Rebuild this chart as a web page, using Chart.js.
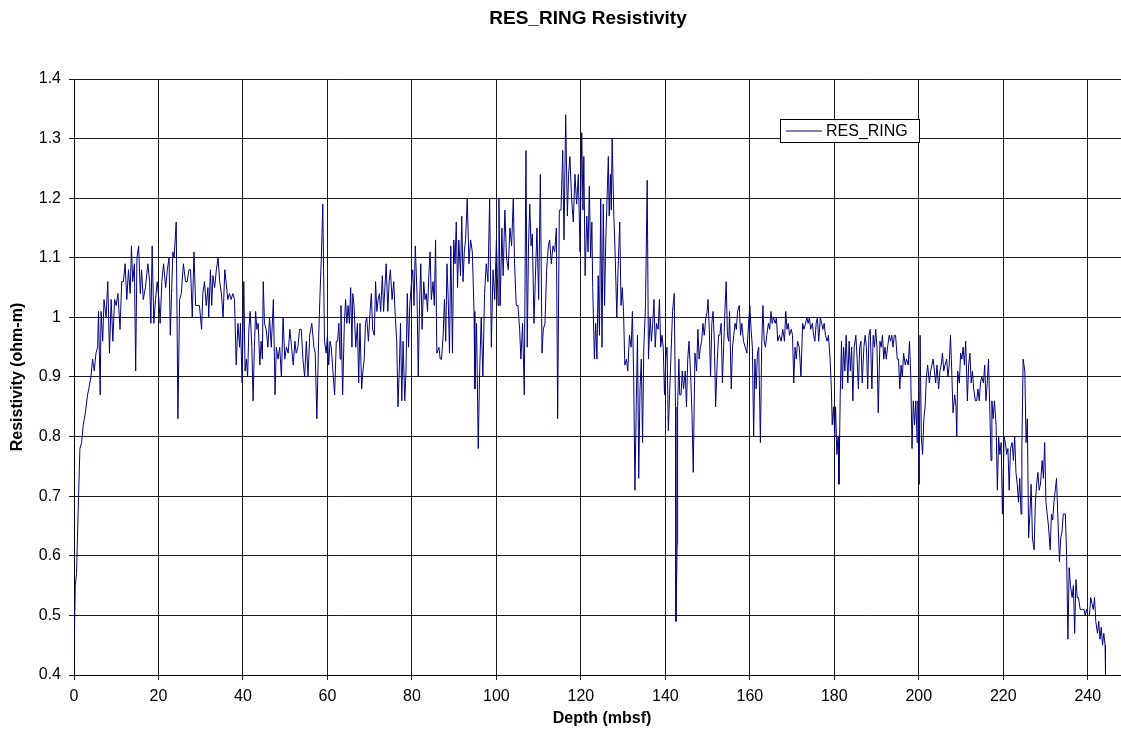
<!DOCTYPE html>
<html>
<head>
<meta charset="utf-8">
<title>RES_RING Resistivity</title>
<script src="https://cdn.jsdelivr.net/npm/chart.js@4.4.1/dist/chart.umd.min.js"></script>
<style>
    html, body { margin: 0; padding: 0; background: #fff; overflow: hidden; }
    #grafico { display: block; }
</style>
</head>
<body>
<canvas id="grafico" width="1140" height="738"></canvas>
<script>
const depth = [
    // 0 - 29 m
    0.0, 0.3, 0.6, 1.0, 1.4, 1.8, 2.2, 2.7, 3.2, 3.5,
    4.0, 4.4, 4.8, 5.2, 5.6, 5.8, 6.2, 6.4, 6.8, 7.1,
    7.6, 8.0, 8.4, 8.8, 9.2, 9.6, 10.0, 10.4, 10.9, 11.3,
    11.7, 12.1, 12.5, 12.9, 13.3, 13.6, 13.9, 14.3, 14.6, 14.9,
    15.3, 15.7, 16.0, 16.4, 16.9, 17.5, 17.9, 18.2, 18.5, 18.9,
    19.3, 19.7, 20.1, 20.4, 20.8, 21.2, 21.7, 22.1, 22.5, 22.8,
    23.1, 23.4, 23.7, 24.2, 24.6, 25.0, 25.4, 25.9, 26.4, 26.8,
    27.2, 27.6, 28.0, 28.4, 28.8, 29.3,
    // 29 - 59 m
    29.7, 30.2, 30.5, 30.9, 31.3, 31.7, 31.9, 32.3, 32.6, 32.9,
    33.3, 33.7, 34.1, 34.5, 34.9, 35.3, 35.7, 36.0, 36.4, 36.8,
    37.2, 37.6, 38.0, 38.4, 38.8, 39.2, 39.4, 39.8, 40.2, 40.5,
    40.8, 41.1, 41.4, 41.7, 42.1, 42.4, 42.7, 43.0, 43.3, 43.6,
    44.0, 44.3, 44.6, 44.8, 45.1, 45.5, 45.9, 46.3, 46.7, 47.2,
    47.6, 47.9, 48.3, 48.7, 49.1, 49.5, 49.9, 50.3, 50.7, 51.1,
    51.5, 51.9, 52.3, 52.6, 53.0, 53.4, 53.8, 54.2, 54.6, 55.0,
    55.4, 55.8, 56.3, 56.8, 57.1, 57.5, 57.9, 58.2, 58.6, 58.9,
    59.3,
    // 59 - 91 m
    59.7, 60.0, 60.3, 60.6, 60.9, 61.3, 61.7, 62.1, 62.4, 62.7,
    63.0, 63.2, 63.6, 64.0, 64.3, 64.6, 64.9, 65.2, 65.5, 65.8,
    66.0, 66.3, 66.7, 67.1, 67.4, 67.7, 68.1, 68.4, 68.7, 69.0,
    69.3, 69.7, 70.1, 70.4, 70.7, 71.1, 71.4, 71.7, 72.0, 72.3,
    72.6, 73.0, 73.3, 73.6, 73.9, 74.3, 74.6, 74.9, 75.3, 75.7,
    76.0, 76.4, 76.7, 77.0, 77.3, 77.6, 77.9, 78.3, 78.6, 78.9,
    79.2, 79.5, 79.8, 80.2, 80.5, 80.8, 81.2, 81.5, 81.8, 82.1,
    82.4, 82.8, 83.1, 83.4, 83.7, 84.0, 84.3, 84.6, 85.0, 85.3,
    85.6, 85.9, 86.4, 86.7, 87.0, 87.4, 87.7, 88.0, 88.3, 88.6,
    88.9, 89.2, 89.6, 89.9, 90.2, 90.5, 90.8, 91.1,
    // 91 - 120 m
    91.5, 91.8, 92.1, 92.4, 92.7, 93.1, 93.5, 93.9, 94.3, 94.7,
    94.9, 95.3, 95.7, 96.0, 96.4, 96.8, 97.2, 97.6, 98.0, 98.4,
    98.8, 99.2, 99.6, 100.0, 100.4, 100.6, 100.9, 101.3, 101.6, 102.0,
    102.4, 102.8, 103.2, 103.6, 104.0, 104.3, 104.7, 105.1, 105.5, 105.8,
    106.2, 106.6, 107.0, 107.3, 107.6, 107.9, 108.2, 108.5, 108.9, 109.2,
    109.6, 110.0, 110.4, 110.8, 111.1, 111.5, 111.9, 112.3, 112.6, 113.0,
    113.4, 113.8, 114.2, 114.5, 114.9, 115.3, 115.7, 116.0, 116.4, 116.8,
    117.1, 117.4, 117.8, 118.2, 118.6, 119.0, 119.4, 119.8, 120.2,
    // 120 - 153 m
    120.5, 120.7, 121.0, 121.4, 121.7, 122.0, 122.3, 122.6, 122.8, 123.2,
    123.5, 123.8, 124.1, 124.4, 124.7, 125.0, 125.3, 125.6, 125.9, 126.2,
    126.5, 126.7, 127.0, 127.2, 127.4, 127.8, 128.1, 128.5, 128.8, 129.2,
    129.5, 129.8, 130.1, 130.4, 130.8, 131.1, 131.5, 131.9, 132.2, 132.5,
    132.8, 133.1, 133.4, 133.7, 134.0, 134.3, 134.6, 134.9, 135.3, 135.7,
    136.0, 136.4, 136.7, 137.0, 137.3, 137.6, 137.9, 138.3, 138.6, 138.9,
    139.2, 139.5, 139.8, 140.1, 140.4, 140.7, 141.0, 141.3, 141.7, 142.1,
    142.4, 142.5, 142.8, 142.9, 143.2, 143.4, 143.7, 144.0, 144.3, 144.7,
    145.0, 145.3, 145.6, 146.0, 146.3, 146.6, 147.0, 147.4, 147.7, 148.0,
    148.3, 148.6, 148.9, 149.2, 149.6, 149.9, 150.1, 150.4, 150.7, 151.0,
    151.3, 151.6, 151.9, 152.3, 152.6,
    // 153 - 182 m
    152.9, 153.2, 153.5, 153.8, 154.1, 154.4, 154.7, 155.0, 155.2, 155.6,
    155.9, 156.2, 156.5, 156.8, 157.1, 157.5, 157.8, 158.1, 158.5, 158.9,
    159.3, 159.7, 160.0, 160.3, 160.6, 160.9, 161.2, 161.5, 161.8, 162.1,
    162.5, 162.8, 163.1, 163.4, 163.7, 164.0, 164.4, 164.7, 165.0, 165.3,
    165.6, 166.0, 166.3, 166.6, 167.0, 167.4, 167.8, 168.2, 168.5, 168.8,
    169.1, 169.4, 169.8, 170.1, 170.4, 170.7, 171.0, 171.3, 171.7, 172.1,
    172.5, 172.8, 173.2, 173.5, 173.8, 174.1, 174.4, 174.8, 175.1, 175.4,
    175.7, 176.0, 176.3, 176.7, 177.0, 177.3, 177.6, 177.9, 178.3, 178.6,
    179.0, 179.3, 179.5, 179.8, 180.1, 180.3, 180.6, 180.9, 181.1, 181.4,
    181.7,
    // 182 - 213 m
    181.9, 182.2, 182.5, 182.8, 183.2, 183.5, 183.8, 184.1, 184.4, 184.7,
    185.1, 185.4, 185.7, 186.0, 186.3, 186.6, 187.0, 187.3, 187.6, 187.9,
    188.2, 188.5, 188.9, 189.2, 189.5, 189.8, 190.1, 190.4, 190.8, 191.1,
    191.4, 191.7, 192.0, 192.3, 192.6, 193.0, 193.3, 193.6, 193.9, 194.2,
    194.5, 194.9, 195.2, 195.5, 195.8, 196.1, 196.4, 196.8, 197.1, 197.5,
    197.8, 198.1, 198.4, 198.7, 199.0, 199.3, 199.6, 199.8, 200.1, 200.3,
    200.6, 200.9, 201.2, 201.5, 201.8, 202.1, 202.5, 202.8, 203.1, 203.4,
    203.7, 204.0, 204.3, 204.7, 205.0, 205.3, 205.6, 205.9, 206.2, 206.6,
    206.9, 207.2, 207.5, 207.8, 208.1, 208.5, 208.8, 209.0, 209.2, 209.6,
    209.9, 210.2, 210.5, 210.8, 211.1, 211.5, 211.8, 212.1, 212.4, 212.7,
    213.0, 213.4,
    // 213 - 244 m
    213.7, 214.0, 214.3, 214.6, 214.9, 215.3, 215.6, 215.9, 216.2, 216.5,
    216.8, 217.1, 217.3, 217.6, 217.9, 218.3, 218.6, 218.9, 219.2, 219.5,
    219.8, 220.2, 220.5, 220.8, 221.1, 221.4, 221.7, 222.1, 222.4, 222.7,
    223.0, 223.3, 223.6, 223.9, 224.2, 224.4, 224.7, 225.1, 225.4, 225.7,
    226.0, 226.3, 226.6, 226.9, 227.3, 227.6, 227.9, 228.2, 228.5, 228.8,
    229.2, 229.5, 229.8, 230.1, 230.4, 230.7, 231.1, 231.4, 231.7, 232.0,
    232.3, 232.6, 232.9, 233.3, 233.6, 233.9, 234.2, 234.7, 235.0, 235.3,
    235.6, 235.9, 236.3, 236.6, 236.9, 237.2, 237.5, 237.8, 238.2, 238.5,
    238.8, 239.1, 239.4, 239.7, 240.0, 240.4, 240.7, 241.0, 241.3, 241.6,
    241.9, 242.3, 242.6, 242.9, 243.2, 243.5, 243.8, 244.1, 244.2
];

const resRing = [
    // 0 - 29 m
    0.43, 0.55, 0.57, 0.68, 0.78, 0.79, 0.82, 0.84, 0.87, 0.88,
    0.90, 0.93, 0.91, 0.94, 0.95, 1.01, 0.87, 1.01, 0.96, 1.03,
    1.00, 1.06, 0.94, 1.03, 0.96, 1.03, 1.02, 1.04, 0.98, 1.06,
    1.06, 1.09, 1.03, 1.08, 1.04, 1.12, 1.06, 1.09, 0.91, 1.10,
    1.12, 1.04, 1.08, 1.03, 1.05, 1.09, 1.06, 0.99, 1.12, 0.99,
    1.03, 1.06, 1.03, 0.99, 1.06, 1.09, 1.05, 1.08, 1.10, 0.97,
    1.04, 1.11, 1.10, 1.16, 0.83, 1.03, 1.04, 1.09, 1.06, 1.06,
    1.08, 1.08, 1.00, 1.11, 1.02, 1.02,
    // 29 - 59 m
    1.02, 0.98, 1.04, 1.06, 1.02, 1.05, 1.00, 1.08, 1.02, 1.07,
    1.05, 1.08, 1.10, 1.06, 1.04, 1.00, 1.08, 1.06, 1.03, 1.04,
    1.03, 1.04, 1.03, 0.92, 0.99, 0.95, 0.99, 0.89, 1.06, 0.91,
    0.93, 0.90, 0.98, 1.01, 0.95, 0.86, 0.95, 1.01, 0.98, 0.99,
    0.92, 0.96, 0.93, 1.06, 0.99, 0.98, 0.95, 1.00, 0.95, 1.03,
    0.87, 0.95, 0.93, 0.95, 0.90, 1.00, 0.93, 0.95, 0.94, 0.98,
    0.95, 0.92, 0.96, 0.94, 0.95, 0.98, 0.98, 0.93, 0.90, 0.96,
    0.90, 0.97, 0.99, 0.95, 0.94, 0.83, 0.96, 1.03, 1.11, 1.19,
    0.96,
    // 59 - 91 m
    0.94, 0.97, 0.92, 0.96, 0.95, 0.91, 0.87, 0.96, 0.96, 0.99,
    0.93, 1.02, 0.87, 0.99, 1.03, 0.99, 1.02, 0.99, 1.05, 0.95,
    1.04, 1.02, 0.95, 0.99, 0.89, 0.99, 0.88, 0.91, 0.93, 0.99,
    1.00, 0.96, 1.01, 1.04, 0.98, 0.97, 1.06, 1.01, 1.03, 1.04,
    1.01, 1.07, 1.01, 1.05, 1.09, 1.01, 1.06, 1.08, 1.03, 1.06,
    1.01, 0.96, 0.85, 0.91, 0.99, 0.86, 0.96, 0.86, 0.91, 1.04,
    0.95, 1.02, 1.05, 1.08, 1.02, 1.12, 1.04, 0.90, 1.02, 1.09,
    0.98, 1.06, 1.03, 1.04, 1.01, 1.07, 1.11, 1.03, 1.06, 1.02,
    1.13, 0.94, 0.95, 0.93, 0.93, 0.97, 1.03, 0.96, 1.09, 1.03,
    0.94, 1.12, 0.94, 1.13, 1.09, 1.16, 1.05, 1.13,
    // 91 - 120 m
    1.07, 1.17, 1.06, 1.11, 1.13, 1.20, 1.09, 1.13, 1.11, 1.01,
    0.88, 0.99, 0.78, 0.90, 1.00, 0.90, 1.04, 1.09, 1.06, 1.20,
    0.95, 1.08, 1.03, 1.13, 1.02, 1.20, 1.02, 1.15, 1.07, 1.18,
    1.10, 1.08, 1.15, 1.12, 1.20, 1.09, 1.02, 1.02, 0.98, 0.93,
    0.99, 0.87, 1.28, 0.95, 1.12, 1.19, 1.12, 1.14, 0.99, 1.06,
    1.15, 1.03, 1.24, 0.94, 0.98, 0.99, 1.08, 1.12, 1.13, 1.09,
    1.12, 1.11, 1.15, 0.83, 1.18, 1.18, 1.28, 1.13, 1.34, 1.17,
    1.24, 1.27, 1.20, 1.16, 1.24, 1.19, 1.24, 1.11, 1.31,
    // 120 - 153 m
    1.18, 1.27, 1.07, 1.17, 1.11, 1.22, 1.10, 1.16, 1.05, 0.93,
    0.99, 0.93, 1.07, 0.97, 1.20, 0.95, 1.19, 1.02, 1.13, 1.20,
    1.27, 1.17, 1.24, 1.18, 1.30, 1.17, 1.11, 1.00, 1.08, 1.16,
    1.02, 1.05, 1.01, 0.92, 0.93, 0.91, 0.97, 0.95, 1.01, 0.90,
    0.71, 0.85, 0.97, 0.73, 0.88, 0.93, 0.79, 0.95, 1.02, 1.23,
    0.93, 1.00, 0.96, 0.99, 1.03, 0.95, 0.99, 0.98, 1.03, 0.95,
    0.97, 0.95, 0.87, 0.93, 0.95, 0.81, 0.87, 0.93, 1.01, 1.04,
    0.85, 0.49, 0.62, 0.85, 0.93, 0.87, 0.87, 0.91, 0.88, 0.91,
    0.85, 0.93, 0.96, 0.90, 0.84, 0.74, 0.94, 0.91, 0.98, 0.93,
    0.95, 0.96, 0.99, 0.97, 1.00, 1.01, 1.03, 0.98, 0.90, 0.99,
    1.01, 0.96, 0.85, 0.93, 0.97,
    // 153 - 182 m
    0.97, 0.99, 0.89, 0.95, 1.01, 1.06, 0.97, 0.96, 1.01, 0.88,
    0.95, 0.97, 0.99, 0.98, 1.01, 1.02, 0.97, 0.99, 0.96, 0.95,
    0.94, 0.99, 1.02, 0.98, 0.95, 0.80, 0.93, 0.88, 0.94, 0.95,
    0.79, 0.95, 1.02, 0.96, 0.95, 0.97, 0.99, 0.98, 1.01, 0.99,
    1.00, 0.99, 1.00, 0.96, 0.97, 0.96, 0.98, 0.96, 1.01, 0.98,
    0.99, 0.97, 0.98, 0.97, 0.89, 0.95, 0.93, 0.96, 0.95, 0.90,
    0.99, 0.98, 0.99, 1.00, 0.99, 1.00, 0.98, 0.99, 0.97, 0.96,
    0.99, 1.00, 0.96, 1.00, 0.99, 0.98, 0.99, 0.97, 0.96, 0.97,
    0.93, 0.88, 0.82, 0.85, 0.80, 0.85, 0.77, 0.80, 0.72, 0.87,
    0.96,
    // 182 - 213 m
    0.88, 0.95, 0.91, 0.97, 0.89, 0.96, 0.91, 0.95, 0.86, 0.95,
    0.97, 0.93, 0.88, 0.95, 0.96, 0.89, 0.95, 0.97, 0.95, 0.88,
    0.97, 0.98, 0.88, 0.97, 0.95, 0.98, 0.95, 0.84, 0.96, 0.95,
    0.97, 0.93, 0.95, 0.93, 0.95, 0.97, 0.96, 0.97, 0.95, 0.97,
    0.97, 0.93, 0.93, 0.88, 0.92, 0.90, 0.94, 0.92, 0.93, 0.92,
    0.96, 0.90, 0.78, 0.86, 0.82, 0.86, 0.79, 0.86, 0.72, 0.97,
    0.80, 0.77, 0.83, 0.85, 0.90, 0.92, 0.89, 0.91, 0.92, 0.93,
    0.91, 0.89, 0.92, 0.88, 0.91, 0.92, 0.94, 0.91, 0.92, 0.93,
    0.90, 0.92, 0.97, 0.91, 0.84, 0.87, 0.85, 0.80, 0.91, 0.89,
    0.94, 0.93, 0.95, 0.92, 0.96, 0.86, 0.92, 0.94, 0.89, 0.91,
    0.88, 0.86,
    // 213 - 244 m
    0.86, 0.88, 0.86, 0.89, 0.90, 0.89, 0.92, 0.86, 0.89, 0.93,
    0.85, 0.76, 0.86, 0.83, 0.86, 0.82, 0.71, 0.80, 0.77, 0.79,
    0.67, 0.80, 0.79, 0.77, 0.78, 0.71, 0.78, 0.79, 0.76, 0.80,
    0.74, 0.72, 0.69, 0.73, 0.67, 0.78, 0.93, 0.91, 0.79, 0.83,
    0.63, 0.67, 0.72, 0.63, 0.61, 0.69, 0.72, 0.74, 0.71, 0.72,
    0.76, 0.73, 0.79, 0.69, 0.67, 0.65, 0.61, 0.67, 0.66, 0.69,
    0.71, 0.73, 0.67, 0.59, 0.63, 0.64, 0.67, 0.67, 0.60, 0.46,
    0.58, 0.55, 0.53, 0.55, 0.47, 0.56, 0.53, 0.53, 0.51, 0.51,
    0.51, 0.51, 0.50, 0.51, 0.50, 0.50, 0.53, 0.52, 0.51, 0.53,
    0.49, 0.47, 0.49, 0.46, 0.48, 0.45, 0.47, 0.45, 0.40
];

const xTicks = [0, 20, 40, 60, 80, 100, 120, 140, 160, 180, 200, 220, 240];
const yTicks = [0.4, 0.5, 0.6, 0.7, 0.8, 0.9, 1.0, 1.1, 1.2, 1.3, 1.4];

const tituloGrafico = 'RES_RING Resistivity';
const nomeSerie = 'RES_RING';
const corSerie = '#000080';

document.addEventListener('DOMContentLoaded', function () {
    const graficoCanvas = document.getElementById('grafico');
    const fonte = "'Liberation Sans', Arial, sans-serif";

    const pontos = depth.map((d, i) => ({ x: d, y: resRing[i] }));

    // Título e caixa de legenda no estilo do Excel
    const extras = {
        id: 'extras',
        afterDraw(chart) {
            const ctx = chart.ctx;
            ctx.save();
            ctx.fillStyle = '#000';
            ctx.font = 'bold 19px ' + fonte;
            ctx.textAlign = 'center';
            ctx.textBaseline = 'middle';
            ctx.fillText(tituloGrafico, 588, 19);

            const bx = 780.5, by = 119.5, bw = 139, bh = 23;
            ctx.fillStyle = '#fff';
            ctx.fillRect(bx, by, bw, bh);
            ctx.strokeStyle = '#000';
            ctx.lineWidth = 1;
            ctx.strokeRect(bx, by, bw, bh);

            ctx.strokeStyle = corSerie;
            ctx.beginPath();
            ctx.moveTo(786, by + bh / 2);
            ctx.lineTo(822, by + bh / 2);
            ctx.stroke();

            ctx.fillStyle = '#000';
            ctx.font = '16px ' + fonte;
            ctx.textAlign = 'left';
            ctx.fillText(nomeSerie, 826, by + bh / 2 + 1);
            ctx.restore();
        }
    };

    new Chart(graficoCanvas, {
        type: 'line',
        data: {
            datasets: [{
                label: nomeSerie,
                data: pontos,
                borderColor: corSerie,
                borderWidth: 1,
                pointRadius: 0,
                tension: 0,
                fill: false
            }]
        },
        options: {
            responsive: false,
            animation: false,
            layout: { padding: { top: 79, right: 10, left: 0, bottom: 0 } },
            plugins: {
                legend: { display: false },
                title: { display: false },
                tooltip: { enabled: false }
            },
            scales: {
                x: {
                    type: 'linear',
                    min: 0,
                    max: 250,
                    afterBuildTicks(scale) {
                        scale.ticks = xTicks.map(v => ({ value: v }));
                    },
                    afterFit(scale) { scale.height = 63; },
                    ticks: {
                        color: '#000',
                        padding: 7,
                        maxRotation: 0,
                        font: { family: fonte, size: 16 }
                    },
                    grid: { color: '#1a1a1a', lineWidth: 1, tickLength: 5 },
                    border: { color: '#000', width: 1 },
                    title: {
                        display: true,
                        text: 'Depth (mbsf)',
                        color: '#000',
                        padding: { top: 0, bottom: 10 },
                        font: { family: fonte, size: 16, weight: 'bold' }
                    }
                },
                y: {
                    type: 'linear',
                    min: 0.4,
                    max: 1.4,
                    afterBuildTicks(scale) {
                        scale.ticks = yTicks.map(v => ({ value: v }));
                    },
                    afterFit(scale) { scale.width = 74; },
                    ticks: {
                        color: '#000',
                        padding: 8,
                        font: { family: fonte, size: 16 },
                        callback: v => String(Math.round(v * 10) / 10)
                    },
                    grid: { color: '#1a1a1a', lineWidth: 1, tickLength: 5 },
                    border: { color: '#000', width: 1 },
                    title: {
                        display: true,
                        text: 'Resistivity (ohm-m)',
                        color: '#000',
                        padding: { top: 8, bottom: 0 },
                        font: { family: fonte, size: 16, weight: 'bold' }
                    }
                }
            }
        },
        plugins: [extras]
    });
});
</script>
</body>
</html>
